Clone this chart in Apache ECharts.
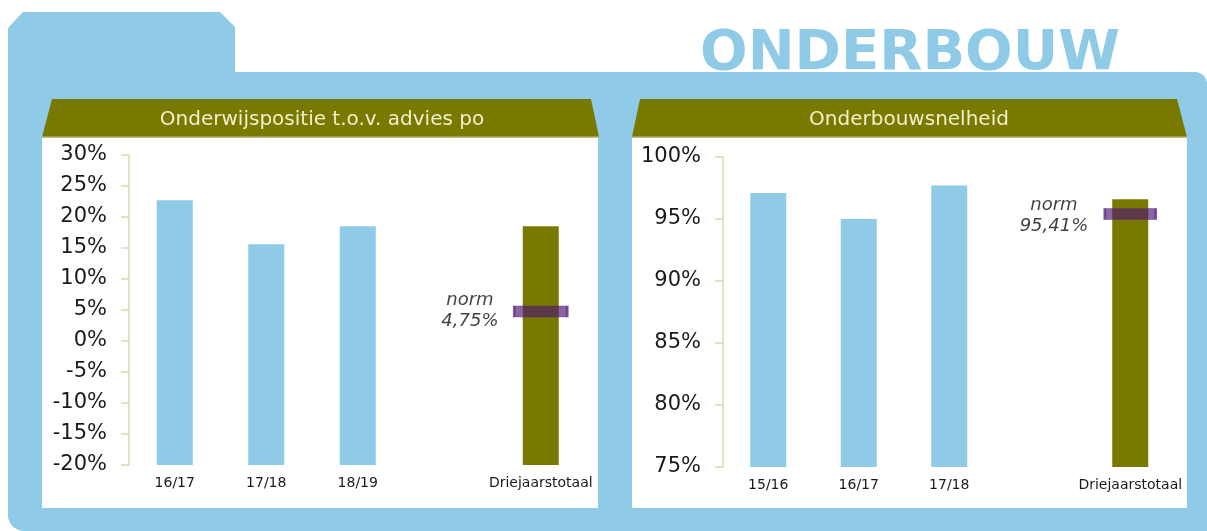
<!DOCTYPE html>
<html>
<head>
<meta charset="utf-8">
<script src="https://cdn.jsdelivr.net/npm/echarts@6/dist/echarts.min.js"></script>
<style>
html,body{margin:0;padding:0;background:#fff;}
#c{width:1207px;height:531px;}
</style>
</head>
<body>
<div id="c"></div>
<script>
// ---- data ----
const leftTitle = 'Onderwijspositie t.o.v. advies po';
const rightTitle = 'Onderbouwsnelheid';
const pageTitle = 'ONDERBOUW';

const leftCategories = ['16/17', '17/18', '18/19', '', 'Driejaarstotaal'];
const leftYears = [22.7, 15.6, 18.5];
const leftTotal = 18.5;
const leftNorm = 4.75;
const leftMin = -20, leftMax = 30, leftStep = 5;

const rightCategories = ['15/16', '16/17', '17/18', '', 'Driejaarstotaal'];
const rightYears = [97.1, 95.0, 97.7];
const rightTotal = 96.6;
const rightNorm = 95.41;
const rightMin = 75, rightMax = 100, rightStep = 5;

// ---- styles ----
const BLUE = '#8FCAE7';
const OLIVE = '#797900';
const AXIS = '#D9D9B5';
const TXT = '#1a1a1a';
const FONT = 'DejaVu Sans';

function fmtPct(v) { return String(v).replace('.', ',') + '%'; }

function yAxis(gi, min, max, step) {
  return {
    type: 'value', gridIndex: gi, min: min, max: max, interval: step,
    axisLine: { show: true, lineStyle: { color: AXIS, width: 1.5 } },
    axisTick: { show: true, length: 8, lineStyle: { color: AXIS, width: 1.5 } },
    splitLine: { show: false },
    axisLabel: { formatter: '{value}%', color: TXT, fontFamily: FONT, fontSize: 21, margin: 22 }
  };
}
function xAxis(gi, cats) {
  return {
    type: 'category', gridIndex: gi, data: cats,
    axisLine: { show: false }, axisTick: { show: false },
    axisLabel: { interval: 0, color: TXT, fontFamily: FONT, fontSize: 14, margin: 11 }
  };
}

const nCat = leftCategories.length;
const totalIdx = nCat - 1;
function spread(vals) { const a = new Array(nCat).fill('-'); vals.forEach((v, i) => a[i] = v); return a; }
function atTotal(v) { const a = new Array(nCat).fill('-'); a[totalIdx] = v; return a; }

const normStyle = { color: 'rgba(76,22,110,0.82)', borderColor: '#5E2F82', borderWidth: 1.2 };
const normLabel = (v, dx, dy) => ({
  show: true, formatter: 'norm\n' + fmtPct(v), position: [dx, dy],
  align: 'center', verticalAlign: 'middle', lineHeight: 21,
  fontStyle: 'italic', fontFamily: FONT, fontSize: 18, color: '#111'
});

const option = {
  animation: false,
  backgroundColor: '#ffffff',
  graphic: { elements: [
    { type: 'polygon', z: -10, shape: { points: [[8,28],[23,12],[220,12],[235,27],[235,90],[8,90]] }, style: { fill: BLUE } },
    { type: 'text', z: -10, style: { text: pageTitle, x: 910, y: 54, align: 'center', verticalAlign: 'middle',
        fontFamily: 'DejaVu Sans', fontWeight: 'bold', fontSize: 56, fill: BLUE } },
    { type: 'rect', z: -9, shape: { x: 8, y: 72, width: 1199, height: 459, r: [0, 12, 0, 16] }, style: { fill: BLUE } },
    { type: 'rect', z: -8, shape: { x: 42, y: 137, width: 556, height: 371 }, style: { fill: '#ffffff' } },
    { type: 'rect', z: -8, shape: { x: 632, y: 137, width: 555, height: 371 }, style: { fill: '#ffffff' } },
    { type: 'polygon', z: -7, shape: { points: [[52,99],[591,99],[599,137],[42,137]] }, style: { fill: OLIVE } },
    { type: 'polygon', z: -7, shape: { points: [[640,99],[1177,99],[1187,137],[632,137]] }, style: { fill: OLIVE } },
    { type: 'line', z: -6, shape: { x1: 42, y1: 137, x2: 599, y2: 137 }, style: { stroke: '#A8A866', lineWidth: 1.5 } },
    { type: 'line', z: -6, shape: { x1: 632, y1: 137, x2: 1187, y2: 137 }, style: { stroke: '#A8A866', lineWidth: 1.5 } },
    { type: 'text', z: -5, style: { text: leftTitle, x: 322, y: 120, align: 'center', verticalAlign: 'middle',
        fontFamily: FONT, fontSize: 20, fill: '#F0F0CC' } },
    { type: 'text', z: -5, style: { text: rightTitle, x: 909, y: 120, align: 'center', verticalAlign: 'middle',
        fontFamily: FONT, fontSize: 20, fill: '#F0F0CC' } }
  ]},
  grid: [
    { left: 129, top: 155, width: 457.5, height: 310 },
    { left: 723, top: 157, width: 452.5, height: 310 }
  ],
  xAxis: [xAxis(0, leftCategories), xAxis(1, rightCategories)],
  yAxis: [yAxis(0, leftMin, leftMax, leftStep), yAxis(1, rightMin, rightMax, rightStep)],
  series: [
    { type: 'bar', xAxisIndex: 0, yAxisIndex: 0, stack: 'L', barWidth: 36,
      data: spread(leftYears.map(() => leftMin)), itemStyle: { color: BLUE } },
    { type: 'bar', xAxisIndex: 0, yAxisIndex: 0, stack: 'L', barWidth: 36,
      data: spread(leftYears), itemStyle: { color: BLUE } },
    { type: 'bar', xAxisIndex: 0, yAxisIndex: 0, stack: 'L', barWidth: 36,
      data: atTotal(leftMin), itemStyle: { color: OLIVE } },
    { type: 'bar', xAxisIndex: 0, yAxisIndex: 0, stack: 'L', barWidth: 36,
      data: atTotal(leftTotal), itemStyle: { color: OLIVE } },
    { type: 'scatter', xAxisIndex: 0, yAxisIndex: 0, z: 5, symbol: 'rect', symbolSize: [53, 11],
      data: [[totalIdx, leftNorm]], itemStyle: normStyle, label: normLabel(leftNorm, -43, 5.5) },

    { type: 'bar', xAxisIndex: 1, yAxisIndex: 1, stack: 'R', barWidth: 36,
      data: spread(rightYears), itemStyle: { color: BLUE } },
    { type: 'bar', xAxisIndex: 1, yAxisIndex: 1, stack: 'R', barWidth: 35,
      data: atTotal(rightTotal), itemStyle: { color: OLIVE } },
    { type: 'scatter', xAxisIndex: 1, yAxisIndex: 1, z: 5, symbol: 'rect', symbolSize: [51, 11],
      data: [[totalIdx, rightNorm]], itemStyle: normStyle, label: normLabel(rightNorm, -49.5, 7.5) }
  ]
};

const chart = echarts.init(document.getElementById('c'), null, { renderer: 'canvas' });
chart.setOption(option);
</script>
</body>
</html>
